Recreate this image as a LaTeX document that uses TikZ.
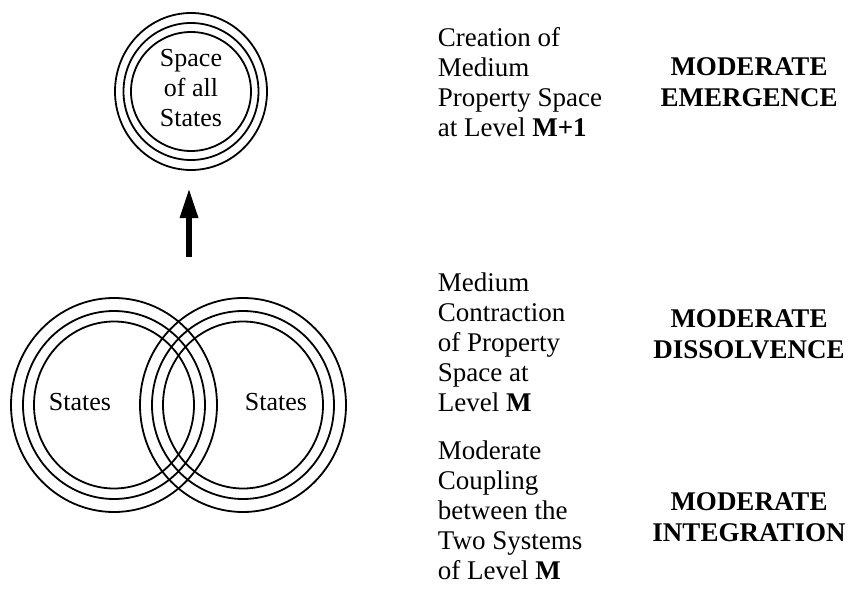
\documentclass[tikz,border=0pt]{standalone}
\usepackage{fontspec}
\setmainfont{Liberation Serif}
\usetikzlibrary{arrows.meta, positioning}

\begin{document}
\begin{tikzpicture}[x=1pt,y=-1pt,line width=1.8pt,
  txt/.style={font=\fontsize{27}{30}\selectfont, align=left, anchor=north west, inner sep=0pt},
  bold/.style={font=\fontsize{27}{31}\selectfont\bfseries, align=center, anchor=north, inner sep=0pt},
  lbl/.style={font=\fontsize{26}{30}\selectfont, align=center, inner sep=0pt}]
\useasboundingbox (0,0) rectangle (850,596);
% level M+1
\foreach \r/\s in {76/78.5, 67.5/68.5, 60/59.5}
  \draw (191,91.5) ellipse [x radius=\r, y radius=\s];
\node[lbl] (space) at (191,88.5) {Space\\of all\\States};
% level M, two systems
\foreach \r/\s in {103/107, 91/94, 80/83.5} {
  \draw (114,405) ellipse [x radius=\r, y radius=\s];
  \draw (243,405) ellipse [x radius=\r, y radius=\s];
}
\node[lbl, anchor=base] (statesA) at (80,410) {States};
\node[lbl, anchor=base] (statesB) at (276,410) {States};
% arrow
\coordinate (arrowbase) at (189,257);
\coordinate (arrowtip) at (189,188);
\draw[-{Triangle[length=30pt,width=17pt]}, line width=6pt] (arrowbase) -- (arrowtip);
% texts
\node[txt] (creation) at (437,26.6) {Creation of\\Medium\\Property Space\\at Level \textbf{M+1}};
\node[txt] (contraction) at (437,271.6) {Medium\\Contraction\\of Property\\Space at\\Level \textbf{M}};
\node[txt] (coupling) at (437,439.6) {Moderate\\Coupling\\between the\\Two Systems\\of Level \textbf{M}};
\node[bold] (emergence) at (749,56.7) {MODERATE\\EMERGENCE};
\node[bold] (dissolvence) at (749,308.7) {MODERATE\\DISSOLVENCE};
\node[bold] (integration) at (749,491.7) {MODERATE\\INTEGRATION};
\end{tikzpicture}
\end{document}
